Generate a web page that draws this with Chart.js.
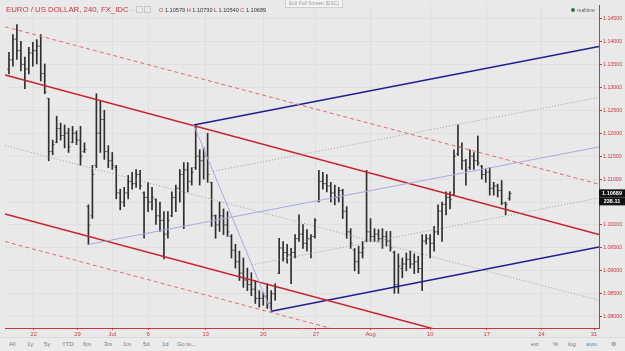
<!DOCTYPE html>
<html>
<head>
<meta charset="utf-8">
<script src="https://cdn.jsdelivr.net/npm/chart.js@4.4.0/dist/chart.umd.min.js"></script>
<style>
  html, body { margin: 0; padding: 0; background: #e9e9e9; }
  #wrap { position: relative; width: 625px; height: 351px; overflow: hidden;
          font-family: "Liberation Sans", Arial, sans-serif; }
  #chart { position: absolute; left: 0; top: 0; }
  .title { position: absolute; left: 6px; top: 5px; font-size: 7.8px; color: #d0353c; white-space: nowrap; }
  .title .ico { display: inline-block; width: 5px; height: 5px; border: 1px solid #c8c8c8; margin-left: 1px; vertical-align: -1px; }
  .ohlc { position: absolute; left: 159px; top: 7px; font-size: 5.6px; color: #333; white-space: nowrap; }
  .ohlc b { color: #d0353c; font-weight: normal; }
  .esc { position: absolute; left: 285px; top: -1px; width: 56px; height: 7px; border: 1px solid #cfcfcf;
         background: #f3f3f3; color: #999; font-size: 5px; line-height: 7px; text-align: center; }
  .rt { position: absolute; left: 571px; top: 7px; font-size: 5px; color: #666; }
  .rt i { display: inline-block; width: 4px; height: 4px; border-radius: 50%; background: #2c7a4b; margin-right: 2px; }
  .bar { position: absolute; left: 0; top: 337px; width: 625px; height: 14px; border-top: 1px solid #dadada; background: #ebebeb; }
  .bar span { position: absolute; top: 3px; font-size: 5.8px; color: #777; }
  .bar .on { color: #4a8fd6; }
</style>
</head>
<body>
<div id="wrap">
  <canvas id="chart" width="625" height="351"></canvas>
  <div class="title">EURO / US DOLLAR, 240, FX_IDC <span style="color:#bbb">&ndash;</span><span class="ico"></span><span class="ico"></span></div>
  <div class="ohlc" id="ohlc"></div>
  <div class="esc">Exit Full Screen (ESC)</div>
  <div class="rt"><i></i>realtime</div>
  <div class="bar">
    <span style="left:9px">All</span><span style="left:27px">1y</span><span style="left:44px">5y</span>
    <span style="left:62px">YTD</span><span style="left:83px">6m</span><span style="left:104px">3m</span>
    <span style="left:123px">1m</span><span style="left:143px">5d</span><span style="left:162px">1d</span>
    <span style="left:177px">Go to...</span>
    <span style="left:531px">ext</span><span style="left:553px">%</span><span style="left:568px">log</span>
    <span class="on" style="left:586px">auto</span><span style="left:611px">&#9881;</span>
  </div>
</div>
<script>
// 4h EUR/USD bars, one slot per sampled bar
var opens = [
1.1340,1.1360,1.1405,1.1380,1.1350,1.1340,1.1375,1.1380,1.1390,1.1330,
1.1276,1.1160,1.1180,1.1210,1.1195,1.1200,1.1180,1.1200,1.1185,1.1160,
1.1040,1.1020,1.1130,1.1200,1.1230,1.1160,1.1140,1.1125,1.1070,1.1050,
1.1070,1.1095,1.1090,1.1110,1.1070,1.1060,1.1050,1.1055,1.1020,1.1010,
1.0980,1.1020,1.1060,1.1080,1.1110,1.1120,1.1095,1.1125,1.1150,1.1140,
1.1150,1.1093,1.1020,1.1000,1.1020,1.1000,1.0975,1.0945,1.0920,1.0895,
1.0880,1.0870,1.0860,1.0840,1.0840,1.0845,1.0830,1.0850,1.0895,1.0950,
1.0940,1.0935,1.0940,1.0970,1.0980,1.0960,1.0970,1.0975,1.1052,1.1095,
1.1090,1.1085,1.1070,1.1060,1.1075,1.1030,1.0985,1.0945,1.0920,1.0940,
1.0965,1.0985,1.0975,1.0980,1.0970,1.0975,1.0965,1.0940,1.0870,1.0905,
1.0915,1.0925,1.0915,1.0920,1.0905,1.0965,1.0970,1.0960,1.0985,1.1030,
1.1045,1.1060,1.1065,1.1155,1.1170,1.1140,1.1125,1.1150,1.1140,1.1128,
1.1110,1.1115,1.1080,1.1085,1.1075,1.1048,1.10579
];
var highs = [
1.1376,1.1415,1.1437,1.1400,1.1366,1.1387,1.1398,1.1404,1.1415,1.1351,
1.1276,1.1185,1.1237,1.1222,1.1218,1.1211,1.1215,1.1205,1.1215,1.1179,
1.1044,1.1130,1.1286,1.1271,1.1250,1.1173,1.1158,1.1130,1.1078,1.1082,
1.1108,1.1115,1.1121,1.1119,1.1072,1.1093,1.1082,1.1057,1.1050,1.1029,
1.1029,1.1072,1.1087,1.1121,1.1136,1.1136,1.1125,1.1218,1.1164,1.1168,
1.1200,1.1093,1.1022,1.1050,1.1035,1.1029,1.0979,1.0958,1.0943,1.0928,
1.0906,1.0896,1.0879,1.0857,1.0853,1.0872,1.0857,1.0872,1.0971,1.0964,
1.0958,1.0949,1.0979,1.1022,1.1001,1.0990,1.0979,1.1014,1.1119,1.1115,
1.1110,1.1093,1.1087,1.1082,1.1078,1.1040,1.0992,1.0949,1.0954,1.0964,
1.1119,1.1014,1.0992,1.0990,1.0992,1.0986,1.0986,1.0943,1.0937,1.0928,
1.0939,1.0943,1.0937,1.0932,1.0979,1.0979,1.0979,1.0997,1.1044,1.1050,
1.1072,1.1072,1.1164,1.1218,1.1179,1.1143,1.1164,1.1158,1.1194,1.1130,
1.1121,1.1125,1.1093,1.1089,1.1097,1.1050,1.10730
];
var lows = [
1.1329,1.1346,1.1361,1.1336,1.1297,1.1329,1.1346,1.1351,1.1314,1.1286,
1.1140,1.1153,1.1179,1.1185,1.1168,1.1158,1.1179,1.1175,1.1130,1.1158,
1.0958,1.1014,1.1125,1.1158,1.1143,1.1125,1.1121,1.1057,1.1033,1.1040,
1.1057,1.1078,1.1082,1.1078,1.0971,1.1029,1.1033,1.1001,1.0986,1.0926,
1.0971,1.1018,1.1029,1.1050,1.0992,1.1072,1.1087,1.1121,1.1087,1.1100,
1.1093,1.0997,1.0971,1.0986,1.0979,1.0975,1.0928,1.0906,1.0879,1.0864,
1.0857,1.0846,1.0829,1.0821,1.0825,1.0818,1.0812,1.0836,1.0894,1.0921,
1.0917,1.0872,1.0928,1.0964,1.0949,1.0943,1.0928,1.0971,1.1050,1.1078,
1.1072,1.1050,1.1044,1.1050,1.1014,1.0971,1.0949,1.0900,1.0894,1.0928,
1.0964,1.0964,1.0964,1.0964,1.0949,1.0954,1.0943,1.0851,1.0851,1.0885,
1.0900,1.0906,1.0894,1.0896,1.0857,1.0958,1.0928,1.0943,1.0979,1.0964,
1.1022,1.1035,1.1065,1.1151,1.1121,1.1087,1.1121,1.1121,1.1130,1.1100,
1.1093,1.1065,1.1065,1.1061,1.1044,1.1022,1.10540
];
var closes = [
1.1360,1.1405,1.1380,1.1350,1.1340,1.1375,1.1380,1.1390,1.1330,1.1290,
1.1160,1.1175,1.1210,1.1195,1.1200,1.1170,1.1200,1.1185,1.1150,1.1165,
1.1000,1.1110,1.1200,1.1230,1.1160,1.1140,1.1130,1.1070,1.1050,1.1070,
1.1095,1.1090,1.1110,1.1085,1.1060,1.1050,1.1060,1.1020,1.1010,1.0980,
1.1010,1.1060,1.1080,1.1110,1.1120,1.1095,1.1115,1.1150,1.1140,1.1150,
1.1110,1.1020,1.1000,1.1020,1.1000,1.0985,1.0945,1.0920,1.0895,1.0880,
1.0870,1.0860,1.0840,1.0840,1.0845,1.0830,1.0850,1.0865,1.0950,1.0940,
1.0935,1.0940,1.0970,1.0980,1.0960,1.0970,1.0975,1.1010,1.1095,1.1090,
1.1085,1.1070,1.1060,1.1075,1.1030,1.0985,1.0960,1.0920,1.0940,1.0950,
1.0985,1.0975,1.0980,1.0970,1.0975,1.0965,1.0950,1.0870,1.0910,1.0915,
1.0925,1.0915,1.0920,1.0905,1.0965,1.0970,1.0960,1.0985,1.1030,1.1045,
1.1060,1.1055,1.1150,1.1170,1.1140,1.1120,1.1150,1.1140,1.1135,1.1110,
1.1115,1.1080,1.1085,1.1075,1.1048,1.1045,1.10689
];
var lastVolume = "238.11";

// date labels on the time axis and the bar slot they sit on
var dateLabels = ["22", "29", "Jul", "6", "13", "20", "27", "Aug", "10", "17", "24", "31"];
var dateSlots = [6.25, 17.25, 26, 35, 49.5, 64, 77.25, 91, 106, 120.25, 134, 147.25];

// drawn trend lines: [slot, price] end points
var redChannelTop = [[-1, 1.1327], [148.5, 1.0979]];
var redChannelBottom = [[-1, 1.1024], [148.5, 1.0677]];
var redOuterTop = [[-1, 1.1432], [148.5, 1.1089]];
var redOuterBottom = [[-1, 1.0964], [148.5, 1.0619]];
var redMedian = [[-1, 1.1173], [148.5, 1.0836]];
var forkUpper = [[46.5, 1.1218], [148.5, 1.1389]];
var forkLower = [[66, 1.0812], [148.5, 1.0952]];
var forkMedian = [[20.25, 1.0958], [148.5, 1.1170]];
var forkHandle = [[46.5, 1.1218], [66, 1.0812]];
var forkInnerTop = [[51.4, 1.1117], [148.5, 1.1278]];
var forkInnerBottom = [[61.1, 1.0913], [148.5, 1.1059]];

var RED = "#d0353c";
var last = closes.length - 1;

document.getElementById("ohlc").innerHTML =
    "<b>O</b> " + opens[last].toFixed(5) + " <b>H</b> " + highs[last].toFixed(5) +
    " <b>L</b> " + lows[last].toFixed(5) + " <b>C</b> " + closes[last].toFixed(5);

function trend(points, color, width, dash) {
    return {
        type: "line",
        data: points.map(function (p) { return {x: p[0], y: p[1]}; }),
        borderColor: color,
        borderWidth: width,
        borderDash: dash || [],
        pointRadius: 0,
        fill: false,
        order: 0
    };
}

var priceBox = {
    id: "priceBox",
    afterDraw: function (chart) {
        var ctx = chart.ctx, area = chart.chartArea;
        var y = chart.scales.y.getPixelForValue(closes[last]);
        ctx.save();
        ctx.fillStyle = "#111";
        ctx.fillRect(area.right, y - 4, 26, 8);
        ctx.fillRect(area.right, y + 4, 26, 8);
        ctx.fillStyle = "#fff";
        ctx.font = "bold 5.5px 'Liberation Sans'";
        ctx.textAlign = "center";
        ctx.textBaseline = "middle";
        ctx.fillText(closes[last].toFixed(5), area.right + 13, y);
        ctx.fillText(lastVolume, area.right + 13, y + 8);
        ctx.restore();
    }
};

new Chart("chart", {
    type: "bar",
    data: {
        datasets: [
            trend(redOuterTop, "#e06a6a", 1, [4, 3]),
            trend(redOuterBottom, "#e06a6a", 1, [4, 3]),
            trend(redMedian, "#9c9c9c", 1, [1, 2]),
            trend(forkInnerTop, "#9c9c9c", 1, [1, 2]),
            trend(forkInnerBottom, "#9c9c9c", 1, [1, 2]),
            trend(forkMedian, "#a9a9dd", 1),
            trend(forkHandle, "#a9a9dd", 1),
            trend(redChannelTop, "#cc1f2e", 1.5),
            trend(redChannelBottom, "#cc1f2e", 1.5),
            trend(forkUpper, "#1d1d95", 1.5),
            trend(forkLower, "#1d1d95", 1.5),
            {
                type: "bar",
                data: highs.map(function (h, i) { return {x: i, y: [lows[i], h]}; }),
                backgroundColor: "#2e2e2e",
                barThickness: 1,
                order: 2
            },
            {
                type: "line",
                showLine: false,
                data: opens.map(function (o, i) { return {x: i - 0.25, y: o}; }),
                pointStyle: "line",
                pointRadius: 1,
                pointBorderColor: "#6a6a6a",
                pointBorderWidth: 1,
                order: 2
            },
            {
                type: "line",
                showLine: false,
                data: closes.map(function (c, i) { return {x: i + 0.25, y: c}; }),
                pointStyle: "line",
                pointRadius: 1,
                pointBorderColor: "#6a6a6a",
                pointBorderWidth: 1,
                order: 2
            }
        ]
    },
    options: {
        responsive: false,
        animation: false,
        devicePixelRatio: 1,
        layout: { padding: { left: 0, right: 0, top: 0, bottom: 13 } },
        plugins: { legend: { display: false }, tooltip: { enabled: false } },
        events: [],
        scales: {
            x: {
                type: "linear",
                min: -1,
                max: 148.5,
                offset: false,
                border: { color: RED, width: 1 },
                grid: { offset: false, color: "rgba(0,0,0,0.035)", tickColor: RED, tickLength: 2 },
                ticks: {
                    autoSkip: false,
                    maxRotation: 0,
                    padding: 1,
                    color: RED,
                    font: { family: "Liberation Sans", size: 5.8 },
                    callback: function (v, i) { return dateLabels[i]; }
                },
                afterBuildTicks: function (axis) {
                    axis.ticks = dateSlots.map(function (v) { return {value: v}; });
                },
                afterFit: function (s) { s.height = 10; s.paddingLeft = 0; s.paddingRight = 0; }
            },
            y: {
                position: "right",
                min: 1.07755,
                max: 1.14794,
                border: { color: RED, width: 1 },
                grid: { color: "rgba(0,0,0,0.035)", tickColor: RED, tickLength: 3 },
                ticks: {
                    stepSize: 0.005,
                    includeBounds: false,
                    padding: 1,
                    color: RED,
                    font: { family: "Liberation Sans", size: 5.3 },
                    callback: function (v) { return v.toFixed(5); }
                },
                afterFit: function (s) { s.width = 26; s.paddingTop = 0; s.paddingBottom = 0; }
            }
        }
    },
    plugins: [priceBox]
});
</script>
</body>
</html>
